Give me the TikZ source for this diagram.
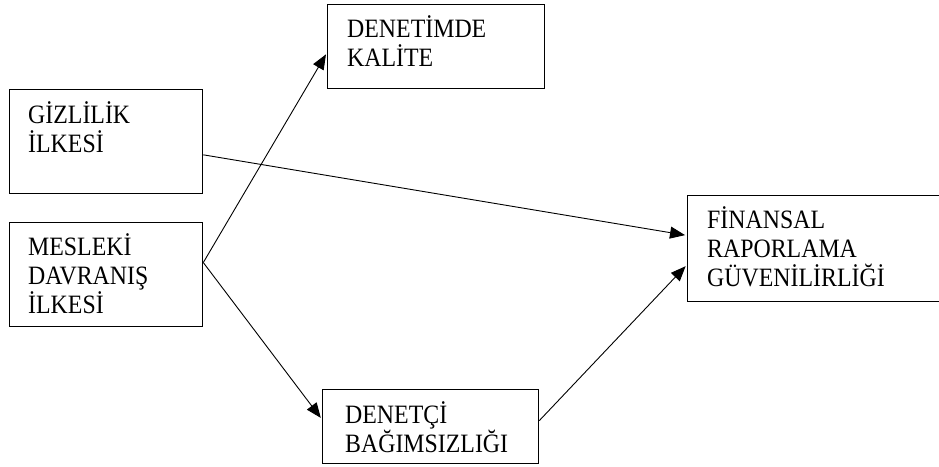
\documentclass[tikz,border=0pt]{standalone}
\usepackage{fontspec}
\setmainfont[FakeStretch=0.9]{Liberation Serif}
\usetikzlibrary{arrows.meta,calc}
\begin{document}
\begin{tikzpicture}[x=1pt,y=-1pt,
  box/.style={draw, line width=1.3pt, rectangle, anchor=north west, inner sep=0pt},
  lbl/.style={anchor=north west, inner sep=0pt, align=left, font=\fontsize{26.5}{29}\selectfont},
  conn/.style={line width=0.9pt, -{Triangle[length=15pt,width=12pt]}, shorten >=2pt}]
\useasboundingbox (0,0) rectangle (939,466);
% boxes
\node[box, minimum width=193pt, minimum height=104pt] (gbox) at (9,89) {};
\node[box, minimum width=193pt, minimum height=104pt] (mbox) at (9,222) {};
\node[box, minimum width=217pt, minimum height=84pt] (dkbox) at (327,4) {};
\node[box, minimum width=216pt, minimum height=74pt] (dcbox) at (322,389) {};
\node[box, minimum width=262pt, minimum height=106pt] (fbox) at (687,195) {};
% texts
\node[lbl] (gtxt) at (28,99) {\rule{0pt}{24pt}GİZLİLİK\\İLKESİ};
\node[lbl] (mtxt) at (28,231) {\rule{0pt}{24pt}MESLEKİ\\DAVRANIŞ\\İLKESİ};
\node[lbl] (dktxt) at (347,13) {\rule{0pt}{24pt}DENETİMDE\\KALİTE};
\node[lbl] (dctxt) at (345,399) {\rule{0pt}{24pt}DENETÇİ\\BAĞIMSIZLIĞI};
\node[lbl] (ftxt) at (707,204) {\rule{0pt}{24pt}FİNANSAL\\RAPORLAMA\\GÜVENİLİRLİĞİ};
% connectors
\draw[conn] ($(mbox.north east)!0.385!(mbox.south east)$) -- ($(dkbox.north west)!0.57!(dkbox.south west)$);
\draw[conn] ($(mbox.north east)!0.385!(mbox.south east)$) -- ($(dcbox.north west)!0.405!(dcbox.south west)$);
\draw[conn] ($(gbox.north east)!0.625!(gbox.south east)$) -- ($(fbox.north west)!0.377!(fbox.south west)$);
\draw[conn] ($(dcbox.north east)!0.42!(dcbox.south east)$) -- ($(fbox.north west)!0.65!(fbox.south west)$);
\end{tikzpicture}
\end{document}
